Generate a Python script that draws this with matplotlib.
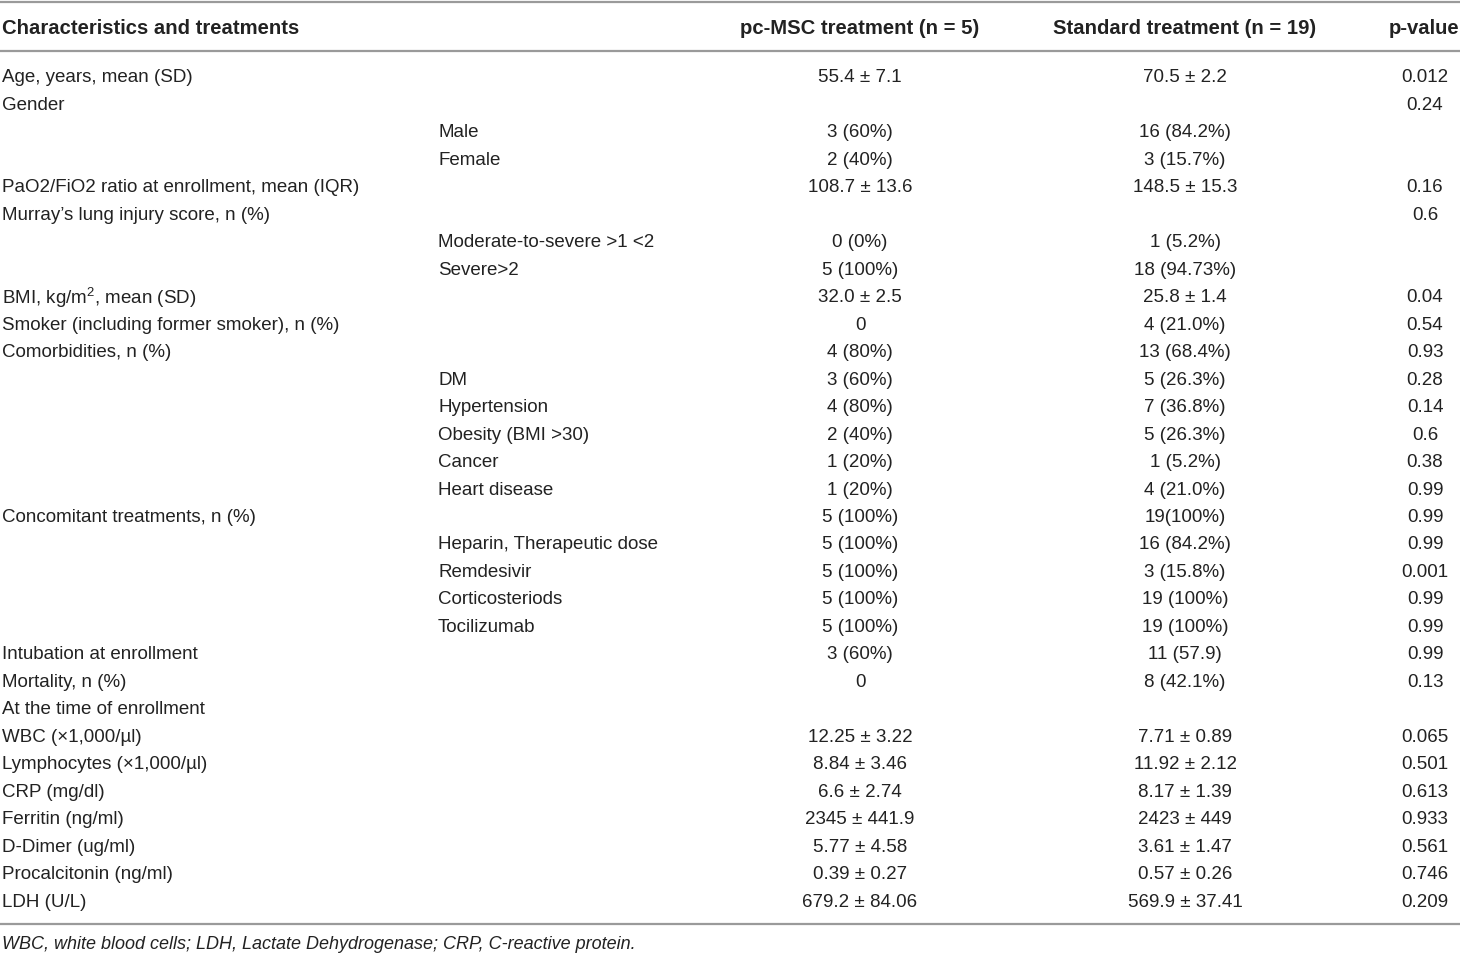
import matplotlib
matplotlib.use("Agg")
import matplotlib.pyplot as plt
from matplotlib import font_manager

# pick a narrow sans if available
names = {f.name for f in font_manager.fontManager.ttflist}
base_font = "Liberation Sans Narrow" if "Liberation Sans Narrow" in names else "Liberation Sans"
plt.rcParams['font.family'] = [base_font, 'DejaVu Sans']
plt.rcParams['mathtext.fontset'] = 'custom'
plt.rcParams['mathtext.rm'] = base_font
plt.rcParams['mathtext.it'] = base_font + ':italic'

# Dados
headers = ["Characteristics and treatments", "pc-MSC treatment (n = 5)",
           "Standard treatment (n = 19)", "p-value"]

labels = ["Age, years, mean (SD)", "Gender", "", "",
          "PaO2/FiO2 ratio at enrollment, mean (IQR)", "Murray\u2019s lung injury score, n (%)", "", "",
          "BMI, kg/m$^{2}$, mean (SD)", "Smoker (including former smoker), n (%)",
          "Comorbidities, n (%)", "", "", "", "", "",
          "Concomitant treatments, n (%)", "", "", "", "",
          "Intubation at enrollment", "Mortality, n (%)", "At the time of enrollment",
          "WBC (\u00d71,000/\u00b5l)", "Lymphocytes (\u00d71,000/\u00b5l)", "CRP (mg/dl)",
          "Ferritin (ng/ml)", "D-Dimer (ug/ml)", "Procalcitonin (ng/ml)", "LDH (U/L)"]

sublabels = ["", "", "Male", "Female", "", "", "Moderate-to-severe >1 <2", "Severe>2",
             "", "", "", "DM", "Hypertension", "Obesity (BMI >30)", "Cancer", "Heart disease",
             "", "Heparin, Therapeutic dose", "Remdesivir", "Corticosteriods", "Tocilizumab",
             "", "", "", "", "", "", "", "", "", ""]

pc_msc = ["55.4 \u00b1 7.1", "", "3 (60%)", "2 (40%)", "108.7 \u00b1 13.6", "", "0 (0%)", "5 (100%)",
          "32.0 \u00b1 2.5", "0", "4 (80%)", "3 (60%)", "4 (80%)", "2 (40%)", "1 (20%)", "1 (20%)",
          "5 (100%)", "5 (100%)", "5 (100%)", "5 (100%)", "5 (100%)", "3 (60%)", "0", "",
          "12.25 \u00b1 3.22", "8.84 \u00b1 3.46", "6.6 \u00b1 2.74", "2345 \u00b1 441.9",
          "5.77 \u00b1 4.58", "0.39 \u00b1 0.27", "679.2 \u00b1 84.06"]

standard = ["70.5 \u00b1 2.2", "", "16 (84.2%)", "3 (15.7%)", "148.5 \u00b1 15.3", "", "1 (5.2%)",
            "18 (94.73%)", "25.8 \u00b1 1.4", "4 (21.0%)", "13 (68.4%)", "5 (26.3%)", "7 (36.8%)",
            "5 (26.3%)", "1 (5.2%)", "4 (21.0%)", "19(100%)", "16 (84.2%)", "3 (15.8%)",
            "19 (100%)", "19 (100%)", "11 (57.9)", "8 (42.1%)", "",
            "7.71 \u00b1 0.89", "11.92 \u00b1 2.12", "8.17 \u00b1 1.39", "2423 \u00b1 449",
            "3.61 \u00b1 1.47", "0.57 \u00b1 0.26", "569.9 \u00b1 37.41"]

p_values = ["0.012", "0.24", "", "", "0.16", "0.6", "", "", "0.04", "0.54", "0.93", "0.28",
            "0.14", "0.6", "0.38", "0.99", "0.99", "0.99", "0.001", "0.99", "0.99", "0.99",
            "0.13", "", "0.065", "0.501", "0.613", "0.933", "0.561", "0.746", "0.209"]

footnote = "WBC, white blood cells; LDH, Lactate Dehydrogenase; CRP, C-reactive protein."

W, H = 1460, 955
fig = plt.figure(figsize=(W / 100, H / 100), dpi=100)
ax = fig.add_axes([0, 0, 1, 1])
ax.set_xlim(0, W)
ax.set_ylim(H, 0)
ax.axis('off')

fs = 13.5
col = "#222222"
line_col = "#9a9a9a"

# linhas horizontais
for y in (2, 51, 924):
    ax.plot([0, W], [y, y], color=line_col, lw=1.6, solid_capstyle='butt')

# cabeçalho
hy = 28
hfs = 14.6
ax.text(2, hy, headers[0], fontsize=hfs, fontweight='bold', color=col, va='center', ha='left')
ax.text(860, hy, headers[1], fontsize=hfs, fontweight='bold', color=col, va='center', ha='center')
ax.text(1185, hy, headers[2], fontsize=hfs, fontweight='bold', color=col, va='center', ha='center')
ax.text(1459, hy, headers[3], fontsize=hfs, fontweight='bold', color=col, va='center', ha='right')

# linhas da tabela
y0, step = 78, 27.47
for i in range(len(labels)):
    y = y0 + i * step
    ax.text(2, y, labels[i], fontsize=fs, color=col, va='center', ha='left')
    ax.text(438, y, sublabels[i], fontsize=fs, color=col, va='center', ha='left')
    ax.text(860, y, pc_msc[i], fontsize=fs, color=col, va='center', ha='center')
    ax.text(1185, y, standard[i], fontsize=fs, color=col, va='center', ha='center')
    ax.text(1425, y, p_values[i], fontsize=fs, color=col, va='center', ha='center')

ax.text(2, 944, footnote, fontsize=13.0, color=col, va='center', ha='left', style='italic')

fig.savefig("out.png", dpi=100)
